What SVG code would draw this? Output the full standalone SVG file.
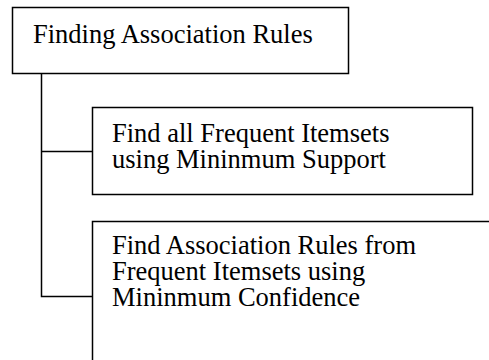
<svg xmlns="http://www.w3.org/2000/svg" width="489" height="360" viewBox="0 0 489 360">
<style>
.box{fill:#fff;stroke:#000;stroke-width:1.5}
.t{font-family:"Liberation Serif","Times New Roman",serif;font-size:26.5px;fill:#000}
.c{fill:none;stroke:#000;stroke-width:1.5}
</style>
<rect width="489" height="360" fill="#fff"/>
<g id="connectors">
<path class="c" d="M41.5,74 V296.5 H92 M41.5,151.5 H92"/>
</g>
<g id="root">
<rect class="box" x="12.5" y="7.5" width="336" height="66"/>
<text class="t" x="33" y="43">Finding Association Rules</text>
</g>
<g id="step1">
<rect class="box" x="92.5" y="107.5" width="380" height="87"/>
<text class="t" x="112" y="142">Find all Frequent Itemsets</text>
<text class="t" x="112" y="168">using Mininmum Support</text>
</g>
<g id="step2">
<path class="box" d="M92.5,362 V221.5 H492"/>
<text class="t" x="112" y="254">Find Association Rules from</text>
<text class="t" x="112" y="280">Frequent Itemsets using</text>
<text class="t" x="112" y="306">Mininmum Confidence</text>
</g>
</svg>
